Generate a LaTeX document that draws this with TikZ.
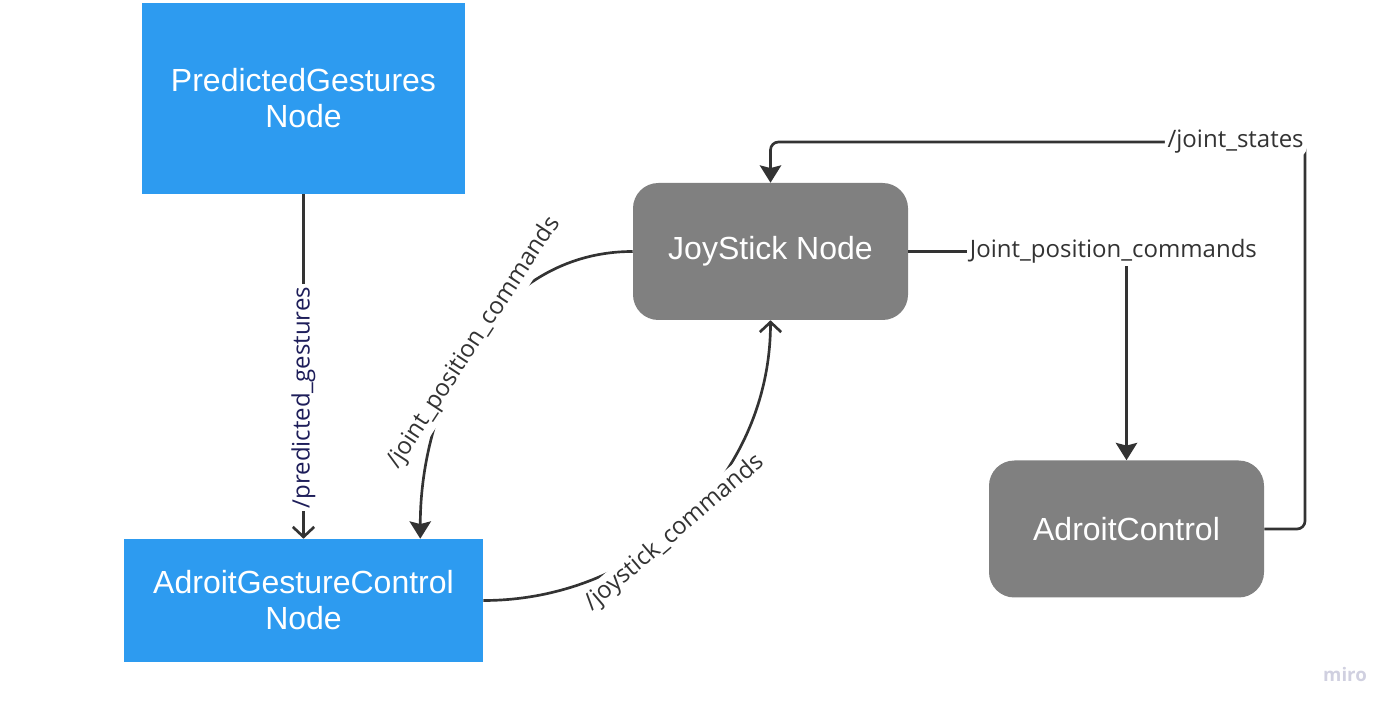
\documentclass[tikz,border=0pt]{standalone}
\usepackage{fontspec}
\setmainfont{Liberation Sans}
\newfontfamily\topicfont{Open Sans}
\usepackage{xcolor}
\definecolor{cBlue}{HTML}{2D9BF0}
\definecolor{cGrey}{HTML}{808080}
\definecolor{cLine}{HTML}{333333}
\definecolor{cNavy}{HTML}{1E1E5A}
\definecolor{cMiro}{HTML}{D0D0E0}
\usetikzlibrary{positioning,arrows.meta,calc}
\tikzset{
  node-blue/.style={fill=cBlue,text=white,inner sep=0pt,align=center,
    font=\fontsize{24}{27}\selectfont},
  node-grey/.style={fill=cGrey,text=white,inner sep=0pt,rounded corners=19pt,
    minimum width=206.25pt,minimum height=102.75pt,align=center,
    font=\fontsize{24}{27}\selectfont},
  topic/.style={fill=white,text=cLine,inner sep=2pt,
    font=\topicfont\fontsize{18}{22}\selectfont},
  arrow-open/.style={-{Straight Barb[length=7.5pt,width=16pt]},line width=2pt,draw=cLine},
  arrow-fill/.style={-{Stealth[length=13pt,width=16pt,inset=2pt]},line width=2pt,draw=cLine},
}

\begin{document}
\begin{tikzpicture}[x=0.75pt,y=0.75pt]
  \useasboundingbox (0,0) rectangle (1399,714);
  \node[node-blue,minimum width=242.25pt,minimum height=143.25pt] (pg) at (303.5,615.5) {PredictedGestures\\Node};
  \node[node-blue,minimum width=269.25pt,minimum height=92.25pt] (agc) at (303.5,113.5) {AdroitGestureControl\\Node};
  \node[node-grey] (joy) at (770.5,462.5) {JoyStick Node};
  \node[node-grey] (adroit) at (1126.5,185) {AdroitControl};
  \coordinate (js-corner) at (1305,572);
  \node[font=\topicfont\bfseries\fontsize{14}{16}\selectfont,text=cMiro] (miro) at (1345,39) {miro};
  % topics
  \draw[arrow-open] (pg) -- node[topic,text=cNavy,rotate=90,pos=0.59] {/predicted\_gestures} (agc);
  \draw[arrow-fill] (joy.west) to[out=180,in=90] node[topic,sloped] {/joint\_position\_commands} ($(agc.north east)+(-63,0)$);
  \draw[arrow-open] (agc.east) to[out=0,in=-90] node[topic,sloped,pos=0.46,yshift=-2pt] {/joystick\_commands} (joy.south);
  \draw[arrow-fill] (joy.east) -| node[topic,pos=0.47] {Joint\_position\_commands} (adroit.north);
  \draw[arrow-fill,rounded corners=6pt] (adroit.east) -| (js-corner)
    node[topic,anchor=east,xshift=2pt] {/joint\_states} -| (joy.north);
\end{tikzpicture}
\end{document}
